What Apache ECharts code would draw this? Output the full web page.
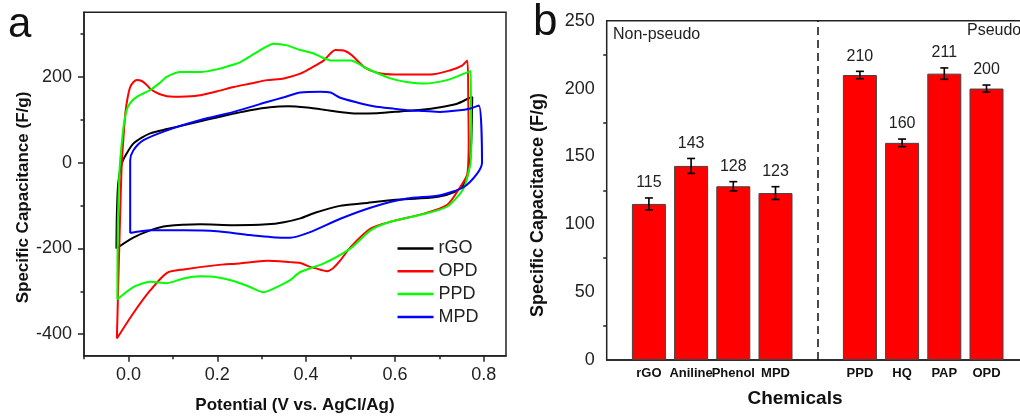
<!DOCTYPE html>
<html><head><meta charset="utf-8">
<script src="https://cdn.jsdelivr.net/npm/echarts@6/dist/echarts.min.js"></script>
<style>html,body{margin:0;padding:0;background:#fff}#c{width:1020px;height:417px}</style>
</head><body><div id="c"></div>
<script>
// ---------- Panel a: CV curves (potential V, capacitance F/g) ----------
const cvNames = ['rGO', 'OPD', 'PPD', 'MPD'];
const cvRGO = [[-0.027,-200],[-0.026,-120],[-0.023,-49],[-0.015,-2],[-0.004,21],[0.011,44],[0.03,58],[0.049,68],[0.087,78],[0.124,87],[0.162,96],[0.199,105],[0.237,114],[0.274,122],[0.319,129],[0.36,131],[0.402,128],[0.44,123],[0.48,117],[0.515,114],[0.56,115],[0.612,119],[0.66,123],[0.702,129],[0.74,137],[0.763,148],[0.774,153],
  [0.773,90],[0.771,30],[0.768,-5],[0.762,-35],[0.752,-55],[0.735,-68],[0.70,-79],[0.65,-84],[0.59,-88],[0.53,-95],[0.476,-101],[0.42,-117],[0.387,-130],[0.35,-139],[0.312,-144],[0.237,-146],[0.162,-144],[0.087,-148],[0.049,-158],[0.011,-175],[-0.027,-200]];
const cvOPD = [[-0.026,-410],[-0.022,-250],[-0.018,-100],[-0.015,-2],[-0.011,60],[-0.007,114],[-0.002,150],[0.004,176],[0.011,187],[0.019,192],[0.03,190],[0.04,182],[0.049,172],[0.071,159],[0.101,153],[0.13,154],[0.162,157],[0.2,166],[0.237,176],[0.275,184],[0.312,192],[0.35,196],[0.387,207],[0.409,219],[0.44,238],[0.466,262],[0.488,260],[0.503,250],[0.53,223],[0.56,209],[0.6,205],[0.627,205],[0.68,205],[0.725,215],[0.75,225],[0.763,238],
  [0.765,150],[0.766,50],[0.765,-2],[0.762,-30],[0.747,-57],[0.717,-99],[0.665,-119],[0.59,-138],[0.545,-154],[0.5,-197],[0.477,-228],[0.462,-245],[0.447,-253],[0.42,-246],[0.409,-243],[0.387,-234],[0.364,-232],[0.312,-229],[0.25,-235],[0.199,-239],[0.124,-249],[0.087,-257],[0.049,-298],[0.011,-351],[-0.026,-410]];
const cvPPD = [[-0.025,-319],[-0.024,-150],[-0.021,-40],[-0.019,-2],[-0.015,45],[-0.011,83],[-0.004,122],[0.005,140],[0.019,153],[0.049,169],[0.07,185],[0.087,200],[0.117,211],[0.162,211],[0.199,217],[0.23,226],[0.252,234],[0.275,248],[0.297,262],[0.327,277],[0.357,273],[0.387,262],[0.417,254],[0.455,238],[0.5,238],[0.537,219],[0.59,196],[0.63,187],[0.665,184],[0.717,192],[0.755,207],[0.77,213],
  [0.771,150],[0.772,50],[0.770,-2],[0.766,-20],[0.757,-55],[0.747,-72],[0.717,-103],[0.665,-120],[0.59,-138],[0.545,-158],[0.5,-200],[0.44,-235],[0.387,-255],[0.364,-274],[0.342,-286],[0.304,-302],[0.274,-290],[0.237,-276],[0.199,-267],[0.162,-265],[0.124,-270],[0.087,-281],[0.049,-278],[0.011,-290],[-0.025,-319]];
const cvMPD = [[0.004,-164],[0.004,5],[0.011,28],[0.034,52],[0.087,75],[0.162,99],[0.237,118],[0.312,141],[0.35,152],[0.387,163],[0.432,165],[0.455,163],[0.477,151],[0.515,140],[0.552,131],[0.6,125],[0.627,122],[0.665,120],[0.702,118],[0.74,121],[0.77,126],[0.789,133],
  [0.796,0],[0.785,-26],[0.755,-57],[0.702,-76],[0.627,-84],[0.552,-103],[0.477,-131],[0.409,-162],[0.364,-175],[0.349,-175],[0.274,-169],[0.199,-160],[0.124,-158],[0.049,-158],[0.004,-164]];
const potentialLabels = [0, 0.2, 0.4, 0.6, 0.8];
const potentialMinor = [-0.1, 0.1, 0.3, 0.5, 0.7];
const capLabelsA = [-400, -200, 0, 200];
const capMinorA = [-300, -100, 100, 300];

// ---------- Panel b: bar chart ----------
const chemicals = ['rGO', 'Aniline', 'Phenol', 'MPD', 'PPD', 'HQ', 'PAP', 'OPD'];
const capacitance = [115, 143, 128, 123, 210, 160, 211, 200];
const capError = [4.4, 5.5, 3.4, 4.7, 2.7, 2.8, 4.2, 2.6];
const groupNames = ['Non-pseudo', 'Pseudo'];

const FONT = '"Liberation Sans", Arial, sans-serif';
const AX = '#222';

// category slots: leading gap, 4 non-pseudo, divider gap, 4 pseudo, trailing gap
const cats = [''].concat(chemicals.slice(0, 4), [''], chemicals.slice(4), ['']);
const slotOf = i => (i < 4 ? i + 1 : i + 2);
const barData = cats.map(() => null);
chemicals.forEach((c, i) => { barData[slotOf(i)] = capacitance[i]; });
const errData = chemicals.map((c, i) => [slotOf(i), capacitance[i], capError[i]]);

const chart = echarts.init(document.getElementById('c'), null, {renderer: 'canvas'});
const lineColors = ['#000000', '#ff0000', '#00ff00', '#0000ff'];
const lineSeries = [cvRGO, cvOPD, cvPPD, cvMPD].map((d, i) => ({
  name: cvNames[i], type: 'line', xAxisIndex: 0, yAxisIndex: 0, data: d,
  showSymbol: false, symbol: 'none', smooth: 0.25,
  lineStyle: {width: 2, color: lineColors[i]},
  itemStyle: {color: lineColors[i]},
  z: 3
}));

const option = {
  animation: false,
  backgroundColor: '#fff',
  textStyle: {fontFamily: FONT},
  grid: [
    {left: 84, top: 12.3, width: 422, height: 343.4, show: true, borderColor: AX, borderWidth: 1.5, backgroundColor: 'transparent', outerBoundsMode: 'none', containLabel: false},
    {left: 606.7, top: 20.7, width: 422, height: 339.3, show: true, borderColor: AX, borderWidth: 1.5, backgroundColor: 'transparent', outerBoundsMode: 'none', containLabel: false}
  ],
  legend: {
    data: cvNames, orient: 'vertical', left: 392.5, top: 234.5, icon: 'rect',
    itemWidth: 36, itemHeight: 2.5, itemGap: 4.8,
    textStyle: {fontSize: 18, color: '#222', fontFamily: FONT, padding: [0, 0, 0, 0]}
  },
  xAxis: [
    {gridIndex: 0, type: 'value', min: -0.1, max: 0.85,
     axisLine: {onZero: false, lineStyle: {color: AX, width: 1.5}},
     axisTick: {customValues: potentialLabels, length: 6, lineStyle: {color: AX, width: 1.5}},
     axisLabel: {customValues: potentialLabels, formatter: v => v.toFixed(1), fontSize: 18, color: '#222', margin: 10, fontFamily: FONT},
     splitLine: {show: false}},
    {gridIndex: 0, type: 'value', min: -0.1, max: 0.85, position: 'bottom',
     axisLine: {show: false, onZero: false},
     axisTick: {customValues: potentialMinor, length: 3.5, lineStyle: {color: AX, width: 1.5}},
     axisLabel: {show: false}, splitLine: {show: false}},
    {gridIndex: 1, type: 'category', data: cats, boundaryGap: false,
     axisLine: {onZero: false, lineStyle: {color: AX, width: 1.5}},
     axisTick: {show: false},
     axisLabel: {interval: 0, fontSize: 13, fontWeight: 'bold', color: '#111', margin: 7, fontFamily: FONT},
     splitLine: {show: false}}
  ],
  yAxis: [
    {gridIndex: 0, type: 'value', min: -450, max: 350,
     axisLine: {onZero: false, lineStyle: {color: AX, width: 1.5}},
     axisTick: {customValues: capLabelsA, length: 6, lineStyle: {color: AX, width: 1.5}},
     axisLabel: {customValues: capLabelsA, fontSize: 18, color: '#222', margin: 12, fontFamily: FONT},
     splitLine: {show: false}},
    {gridIndex: 0, type: 'value', min: -450, max: 350, position: 'left',
     axisLine: {show: false, onZero: false},
     axisTick: {customValues: capMinorA, length: 3.5, lineStyle: {color: AX, width: 1.5}},
     axisLabel: {show: false}, splitLine: {show: false}},
    {gridIndex: 1, type: 'value', min: 0, max: 250, interval: 50,
     axisLine: {onZero: false, lineStyle: {color: AX, width: 1.5}},
     axisTick: {length: 6, lineStyle: {color: AX, width: 1.5}},
     minorTick: {show: true, splitNumber: 2, length: 3.5, lineStyle: {color: AX, width: 1.5}},
     axisLabel: {fontSize: 18, color: '#222', margin: 12, fontFamily: FONT},
     splitLine: {show: false}}
  ],
  series: lineSeries.concat([
    {name: 'Capacitance', type: 'bar', xAxisIndex: 2, yAxisIndex: 2, data: barData,
     barWidth: 34, itemStyle: {color: '#ff0000', borderColor: '#444', borderWidth: 1},
     markLine: {silent: true, symbol: 'none', label: {show: false},
       lineStyle: {type: [8, 5], color: '#111', width: 1.5},
       data: [{xAxis: 5}]},
     z: 2},
    {name: 'Error', type: 'custom', xAxisIndex: 2, yAxisIndex: 2, data: errData, z: 4,
     renderItem: function (params, api) {
       const idx = api.value(0), v = api.value(1), e = api.value(2);
       const t = api.coord([idx, v + e]), b = api.coord([idx, v - e]);
       const cw = 4, st = {stroke: '#000', lineWidth: 1.6};
       return {type: 'group', children: [
         {type: 'line', shape: {x1: t[0], y1: t[1], x2: b[0], y2: b[1]}, style: st},
         {type: 'line', shape: {x1: t[0] - cw, y1: t[1], x2: t[0] + cw, y2: t[1]}, style: st},
         {type: 'line', shape: {x1: b[0] - cw, y1: b[1], x2: b[0] + cw, y2: b[1]}, style: st},
         {type: 'text', style: {text: String(Math.round(v)), x: t[0], y: t[1] - 15,
           align: 'center', verticalAlign: 'middle', textAlign: 'center', textVerticalAlign: 'middle',
           fontSize: 16, fontFamily: FONT, fill: '#222'}}
       ]};
     }}
  ]),
  graphic: [
    {type: 'text', left: 8, top: 4, style: {text: 'a', font: '42px ' + FONT, fill: '#111'}},
    {type: 'text', left: 533, top: 1, style: {text: 'b', font: '44px ' + FONT, fill: '#111'}},
    {type: 'text', x: 23, y: 197.5, rotation: Math.PI / 2,
     style: {text: 'Specific Capacitance (F/g)', font: 'bold 17px ' + FONT, fill: '#111',
       align: 'center', verticalAlign: 'middle', textAlign: 'center', textVerticalAlign: 'middle'}},
    {type: 'text', x: 295, y: 405.5,
     style: {text: 'Potential (V vs. AgCl/Ag)', font: 'bold 17px ' + FONT, fill: '#111',
       align: 'center', verticalAlign: 'middle', textAlign: 'center', textVerticalAlign: 'middle'}},
    {type: 'text', x: 538, y: 205, rotation: Math.PI / 2,
     style: {text: 'Specific Capacitance (F/g)', font: 'bold 18px ' + FONT, fill: '#111',
       align: 'center', verticalAlign: 'middle', textAlign: 'center', textVerticalAlign: 'middle'}},
    {type: 'text', x: 795, y: 398.3,
     style: {text: 'Chemicals', font: 'bold 19px ' + FONT, fill: '#111',
       align: 'center', verticalAlign: 'middle', textAlign: 'center', textVerticalAlign: 'middle'}},
    {type: 'text', x: 613, y: 34.3,
     style: {text: groupNames[0], font: '16px ' + FONT, fill: '#222',
       align: 'left', verticalAlign: 'middle', textAlign: 'left', textVerticalAlign: 'middle'}},
    {type: 'text', x: 967, y: 31,
     style: {text: groupNames[1], font: '16px ' + FONT, fill: '#222',
       align: 'left', verticalAlign: 'middle', textAlign: 'left', textVerticalAlign: 'middle'}}
  ]
};
chart.setOption(option);
</script></body></html>
